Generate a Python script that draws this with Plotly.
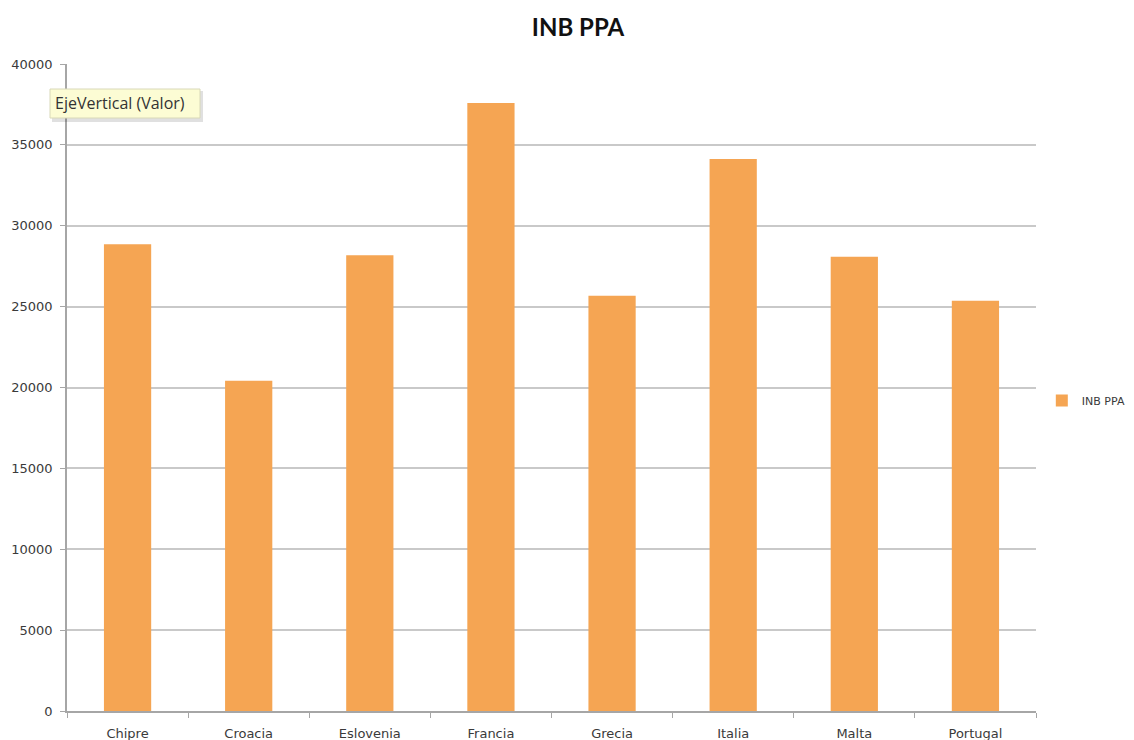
import plotly.graph_objects as go

# INB PPA by country
countries = ["Chipre", "Croacia", "Eslovenia", "Francia", "Grecia", "Italia", "Malta", "Portugal"]
inb_ppa = [28860, 20420, 28180, 37590, 25680, 34130, 28090, 25370]
y_ticks = [0, 5000, 10000, 15000, 20000, 25000, 30000, 35000, 40000]

BAR_COLOR = "#f5a553"
GRID_COLOR = "#c9c9c9"
AXIS_COLOR = "#a6a6a6"
TEXT_COLOR = "#3a3a3a"
FONT = "DejaVu Sans"

fig = go.Figure()
fig.add_trace(go.Bar(
    x=countries,
    y=inb_ppa,
    name="INB PPA",
    marker=dict(color=BAR_COLOR, line=dict(width=0)),
    showlegend=True,
))

fig.update_layout(
    width=1134,
    height=740,
    margin=dict(l=67, r=98, t=64, b=29, autoexpand=False),
    paper_bgcolor="white",
    plot_bgcolor="white",
    bargap=0.61,
    font=dict(family=FONT, size=13, color=TEXT_COLOR),
    title=dict(
        text="<b>INB PPA</b>",
        font=dict(family="Lato", size=24, color="#111111"),
        x=578 / 1134,
        xanchor="center",
        xref="container",
        y=1 - 28 / 740,
        yanchor="middle",
        yref="container",
    ),
    showlegend=True,
    legend=dict(
        x=1.006,
        xanchor="left",
        y=0.48,
        yanchor="middle",
        font=dict(family=FONT, size=11, color=TEXT_COLOR),
        itemwidth=30,
        bgcolor="rgba(0,0,0,0)",
    ),
    xaxis=dict(
        showgrid=False,
        showline=True,
        linecolor=AXIS_COLOR,
        linewidth=1.5,
        ticks="outside",
        tickson="boundaries",
        ticklen=5,
        tickcolor=AXIS_COLOR,
        ticklabelstandoff=10,
        tickfont=dict(family=FONT, size=13, color=TEXT_COLOR),
        fixedrange=True,
    ),
    yaxis=dict(
        range=[0, 40000],
        tickvals=y_ticks,
        ticktext=[str(v) for v in y_ticks],
        showgrid=True,
        gridcolor=GRID_COLOR,
        gridwidth=2,
        zeroline=False,
        showline=True,
        linecolor=AXIS_COLOR,
        linewidth=1.5,
        ticks="outside",
        ticklen=5,
        tickcolor=AXIS_COLOR,
        ticklabelstandoff=5,
        tickfont=dict(family=FONT, size=13, color=TEXT_COLOR),
        fixedrange=True,
    ),
)

# Axis-name tooltip box with a soft drop shadow
box_x0, box_x1 = 50, 200
box_y0, box_y1 = 89, 118
fig.add_shape(
    type="rect", xref="paper", yref="paper",
    x0=(box_x0 + 2 - 67) / 969, x1=(box_x1 + 3 - 67) / 969,
    y0=(711 - (box_y1 + 4)) / 647, y1=(711 - (box_y0 + 2)) / 647,
    fillcolor="rgba(0,0,0,0.12)", line=dict(width=0), layer="above",
)
fig.add_shape(
    type="rect", xref="paper", yref="paper",
    x0=(box_x0 - 67) / 969, x1=(box_x1 - 67) / 969,
    y0=(711 - box_y1) / 647, y1=(711 - box_y0) / 647,
    fillcolor="#fcfcd4", line=dict(color="#d8d8b8", width=1), layer="above",
)
fig.add_annotation(
    text="EjeVertical (Valor)",
    xref="paper", yref="paper",
    x=(box_x0 + 3 - 67) / 969, xanchor="left",
    y=(711 - (box_y0 + box_y1) / 2) / 647, yanchor="middle",
    showarrow=False,
    font=dict(family="Open Sans", size=16, color="#333333"),
)

fig.write_html("out.html")
